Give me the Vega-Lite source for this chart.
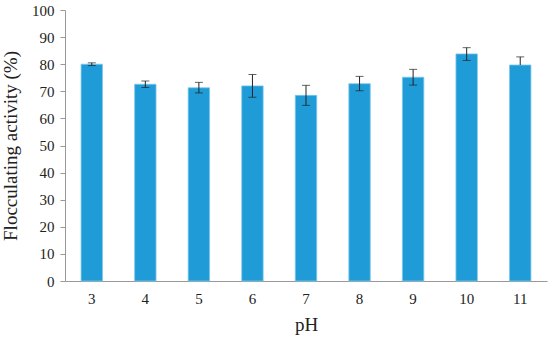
{
  "$schema": "https://vega.github.io/schema/vega-lite/v6.json",
  "width": 482,
  "height": 271,
  "autosize": "none",
  "padding": {"left": 65, "top": 10, "right": 3, "bottom": 62},
  "background": "white",
  "config": {
    "view": {"stroke": null},
    "font": "Liberation Serif",
    "axisY": {
      "grid": false,
      "labelOverlap": false,
      "labelFont": "Liberation Serif",
      "labelFontSize": 15,
      "labelColor": "#222",
      "labelPadding": 6,
      "tickSize": 5,
      "tickColor": "#999",
      "domainColor": "#999",
      "titleFont": "Liberation Serif",
      "titleFontSize": 19,
      "titleFontWeight": "normal",
      "titleColor": "#222",
      "titlePadding": 11
    }
  },
  "data": {
    "values": [
      {"pH": "3", "activity": 80.0, "lo": 79.5, "hi": 80.5},
      {"pH": "4", "activity": 72.6, "lo": 71.4, "hi": 73.8},
      {"pH": "5", "activity": 71.3, "lo": 69.4, "hi": 73.3},
      {"pH": "6", "activity": 72.0, "lo": 67.8, "hi": 76.2},
      {"pH": "7", "activity": 68.5, "lo": 64.8, "hi": 72.2},
      {"pH": "8", "activity": 72.8, "lo": 70.2, "hi": 75.5},
      {"pH": "9", "activity": 75.2, "lo": 72.3, "hi": 78.1},
      {"pH": "10", "activity": 83.8, "lo": 81.4, "hi": 86.1},
      {"pH": "11", "activity": 79.7, "lo": 79.7, "hi": 82.7}
    ]
  },
  "encoding": {
    "x": {
      "field": "pH",
      "type": "ordinal",
      "sort": null,
      "scale": {"paddingInner": 0.6, "paddingOuter": 0.3},
      "axis": {
        "title": "pH",
        "labelAngle": 0,
        "labelFont": "Liberation Serif",
        "labelFontSize": 15,
        "labelColor": "#222",
        "labelPadding": 10,
        "ticks": false,
        "domainColor": "#999",
        "titleFont": "Liberation Serif",
        "titleFontSize": 19,
        "titleFontWeight": "normal",
        "titleColor": "#222",
        "titlePadding": 9
      }
    }
  },
  "layer": [
    {
      "mark": {"type": "bar", "color": "#1F9BD7", "stroke": "#7CC8EC", "strokeWidth": 0.8},
      "encoding": {
        "y": {
          "field": "activity",
          "type": "quantitative",
          "scale": {"domain": [0, 100], "nice": false},
          "axis": {"title": "Flocculating activity (%)", "values": [0, 10, 20, 30, 40, 50, 60, 70, 80, 90, 100]}
        }
      }
    },
    {
      "mark": {"type": "rule", "color": "#222", "strokeWidth": 1},
      "encoding": {
        "y": {"field": "lo", "type": "quantitative", "axis": {"title": "Flocculating activity (%)", "values": [0, 10, 20, 30, 40, 50, 60, 70, 80, 90, 100]}},
        "y2": {"field": "hi"}
      }
    },
    {
      "mark": {"type": "tick", "color": "#222", "size": 8, "thickness": 1},
      "encoding": {"y": {"field": "hi", "type": "quantitative", "axis": {"title": "Flocculating activity (%)", "values": [0, 10, 20, 30, 40, 50, 60, 70, 80, 90, 100]}}}
    },
    {
      "transform": [{"filter": "datum.lo < datum.activity"}],
      "mark": {"type": "tick", "color": "#222", "size": 8, "thickness": 1},
      "encoding": {"y": {"field": "lo", "type": "quantitative", "axis": {"title": "Flocculating activity (%)", "values": [0, 10, 20, 30, 40, 50, 60, 70, 80, 90, 100]}}}
    }
  ]
}
